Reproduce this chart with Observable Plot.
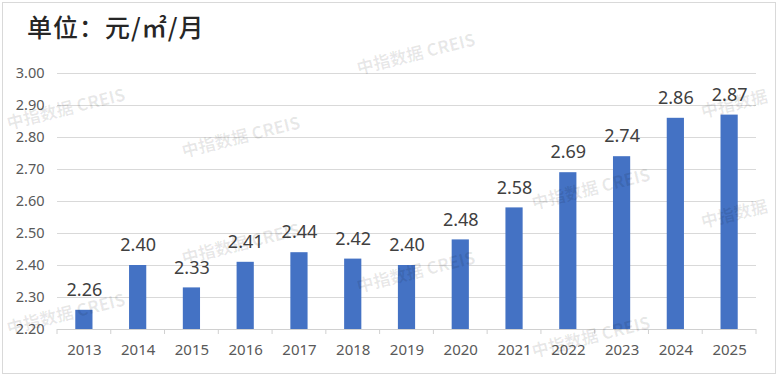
<!DOCTYPE html>
<html>
<head>
<meta charset="utf-8">
<script src="https://cdn.jsdelivr.net/npm/d3@7"></script>
<script src="https://cdn.jsdelivr.net/npm/@observablehq/plot@0.6"></script>
<style>
  html, body { margin: 0; padding: 0; background: #fff; }
  #wrap { position: relative; width: 780px; height: 378px; overflow: hidden; font-family: "Noto Sans", "Open Sans", sans-serif; }
  #frame { position: absolute; left: 2px; top: 2px; width: 774px; height: 372px; border: 1px solid #d9d9d9; box-sizing: border-box; pointer-events: none; }
  #title { height: 55px; box-sizing: border-box; padding: 10px 0 0 27px; font-family: "Noto Sans CJK SC", serif; font-size: 25px; font-weight: 500; color: #262626; line-height: 32px; letter-spacing: 1px; }
  .wm { position: absolute; font-family: "Noto Sans CJK SC", sans-serif; font-weight: 700; font-size: 17px; color: rgba(0,0,0,0.09); transform: rotate(-14deg); white-space: nowrap; pointer-events: none; }
</style>
</head>
<body>
<div id="wrap">
  <div id="title">单位：元/㎡/月</div>
  <div id="chart"></div>
  <div id="frame"></div>
</div>
<script>
const years = ["2013","2014","2015","2016","2017","2018","2019","2020","2021","2022","2023","2024","2025"];
const rents = [2.26, 2.40, 2.33, 2.41, 2.44, 2.42, 2.40, 2.48, 2.58, 2.69, 2.74, 2.86, 2.87];
const yTicks = [2.2, 2.3, 2.4, 2.5, 2.6, 2.7, 2.8, 2.9, 3.0];
const watermark = "中指数据 CREIS";
const watermarkShort = "中指数据";

const data = years.map((y, i) => ({year: y, value: rents[i]}));

const chart = Plot.plot({
  width: 780,
  height: 323,
  marginTop: 18,
  marginBottom: 49,
  marginLeft: 57,
  marginRight: 24,
  style: {fontFamily: "'Noto Sans', 'Open Sans', sans-serif", fontSize: "15px", color: "#595959", background: "transparent"},
  x: {domain: years, paddingInner: 0.68, paddingOuter: 0.34, align: 0.5, round: false, label: null},
  y: {domain: [2.2, 3.0], ticks: yTicks, label: null, tickFormat: d3.format(".2f")},
  marks: [
    Plot.gridY(yTicks.slice(1), {stroke: "#d9d9d9", strokeOpacity: 1}),
    Plot.barY(data, {x: "year", y1: 2.2, y2: "value", fill: "#4472C4"}),
    Plot.ruleY([2.2], {stroke: "#d0d0d0"}),
    Plot.axisY({ticks: yTicks, tickSize: 0, tickPadding: 13, tickFormat: d3.format(".2f"), fontSize: 14.5, fill: "#595959"}),
    Plot.axisX({tickSize: 0, tickPadding: 15, fontSize: 15, fill: "#595959"}),
    Plot.text(data, {x: "year", y: "value", text: d => d.value.toFixed(2), lineAnchor: "middle", dy: -20, fontSize: 18, fill: "#404040"})
  ]
});
document.getElementById("chart").appendChild(chart);

// category boundary tick marks on the baseline
const svg = d3.select(chart);
const xs = chart.scale("x");
const yScale = chart.scale("y");
const y0 = yScale.apply(2.2);
const step = xs.step;
const bounds = years.map(y => xs.apply(y) - (step - xs.bandwidth) / 2);
bounds.push(bounds[bounds.length - 1] + step);
svg.append("g").selectAll("line").data(bounds).join("line")
  .attr("x1", d => d).attr("x2", d => d).attr("y1", y0).attr("y2", y0 + 5)
  .attr("stroke", "#d0d0d0");

// faint watermarks
const wmPos = [[5,95,watermark],[180,123,watermark],[355,40,watermark],[700,90,watermarkShort],[180,230,watermark],[355,258,watermark],[530,175,watermark],[700,200,watermarkShort],[5,300,watermark],[530,323,watermark]];
const wrap = document.getElementById("wrap");
wmPos.forEach(([l, t, txt]) => {
  const s = document.createElement("span");
  s.className = "wm";
  s.textContent = txt;
  s.style.left = l + "px";
  s.style.top = t + "px";
  wrap.appendChild(s);
});
</script>
</body>
</html>
